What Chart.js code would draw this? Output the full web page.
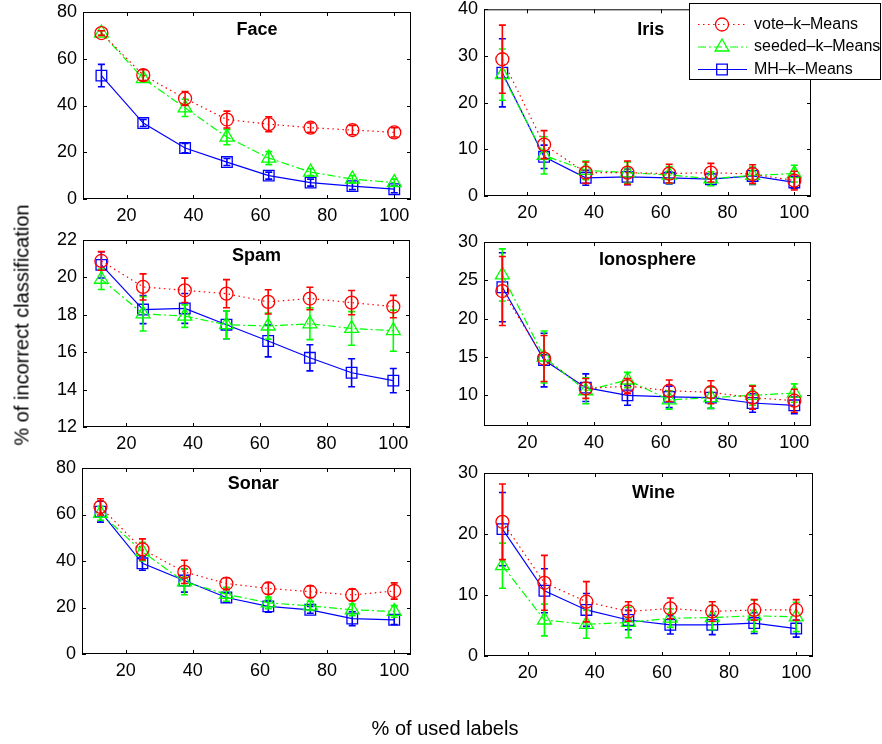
<!DOCTYPE html>
<html>
<head>
<meta charset="utf-8">
<script src="https://cdn.jsdelivr.net/npm/chart.js@4.4.0/dist/chart.umd.min.js"></script>
<style>
  body { margin: 0; background: #fff; }
  #wrap { position: relative; width: 882px; height: 744px; overflow: hidden; font-family: "Liberation Sans", Arial, sans-serif; }
  #wrap canvas { position: absolute; left: 0; top: 0; }
  .lab { position: absolute; font-size: 20px; color: #000; white-space: nowrap; transform: translate(-50%, -50%); }
  #ylab { left: 22px; top: 325px; transform: translate(-50%, -50%) rotate(-90deg); }
  #xlab { left: 445px; top: 728px; }
</style>
</head>
<body>
<div id="wrap">
  <div class="lab" id="ylab">% of incorrect classification</div>
  <div class="lab" id="xlab">% of used labels</div>
</div>
<script>
// x positions (% of used labels) and tick labels
const usedLabels = [12.5, 25, 37.5, 50, 62.5, 75, 87.5, 100];
const xTicks = [20, 40, 60, 80, 100];
const seriesNames = ['vote–k–Means', 'seeded–k–Means', 'MH–k–Means'];

// Face
const faceVote = [71, 53, 43, 34, 32, 30.5, 29.5, 28.5];
const faceVoteErr = [1, 2.3, 3, 3.6, 3.2, 2, 2, 2];
const faceSeeded = [71, 51.5, 39, 26.5, 17.5, 11.5, 8.5, 7];
const faceSeededErr = [1, 1.5, 3.7, 3.3, 2.8, 1.5, 1.5, 1.5];
const faceMH = [52.8, 32.5, 21.8, 15.8, 10, 7, 5.5, 4.2];
const faceMHErr = [4.8, 1.5, 2, 1.5, 1.5, 1.5, 1.5, 1.5];
const faceTicks = [0, 20, 40, 60, 80];

// Iris
const irisVote = [29.3, 11, 5, 5, 4.8, 5, 4.7, 3.3];
const irisVoteErr = [7.3, 3, 2.3, 2.5, 2, 2, 2, 2];
const irisSeeded = [26, 8.7, 5.5, 5, 4.5, 3.7, 4.4, 4.8];
const irisSeededErr = [5.5, 4, 2, 2.3, 1.8, 1.5, 1.8, 1.8];
const irisMH = [26.4, 8.4, 3.9, 4.1, 3.9, 3.6, 4.3, 2.9];
const irisMHErr = [7.3, 2.5, 1.6, 1.7, 1.3, 1.2, 1.8, 1.3];
const irisTicks = [0, 10, 20, 30, 40];

// Spam
const spamVote = [20.88, 19.49, 19.31, 19.13, 18.69, 18.87, 18.65, 18.44];
const spamVoteErr = [0.5, 0.7, 0.65, 0.75, 0.65, 0.6, 0.65, 0.6];
const spamSeeded = [19.9, 18.05, 17.93, 17.47, 17.4, 17.52, 17.27, 17.15];
const spamSeededErr = [0.55, 0.92, 0.6, 0.75, 0.7, 0.85, 0.9, 1.1];
const spamMH = [20.67, 18.28, 18.34, 17.47, 16.6, 15.7, 14.9, 14.48];
const spamMHErr = [0.7, 0.75, 0.8, 0.75, 0.85, 0.7, 0.75, 0.65];
const spamTicks = [12, 14, 16, 18, 20, 22];

// Ionosphere
const ionoVote = [23.6, 14.8, 10.9, 11.2, 10.6, 10.4, 9.7, 9.3];
const ionoVoteErr = [4.5, 3, 1.3, 1, 1.4, 1.5, 1.5, 1.5];
const ionoSeeded = [25.7, 15, 10.6, 12, 9.4, 9.7, 10, 10.3];
const ionoSeededErr = [3.4, 3.4, 1.7, 1, 1.2, 1.4, 1.3, 1.2];
const ionoMH = [24.1, 14.6, 11, 10, 9.8, 9.7, 9, 8.7];
const ionoMHErr = [4.5, 3.5, 1.8, 1.3, 1.4, 1.4, 1.2, 1.1];
const ionoTicks = [10, 15, 20, 25, 30];

// Sonar
const sonarVote = [63.3, 45, 35.3, 30.3, 28.2, 26.8, 25.4, 27.1];
const sonarVoteErr = [3.5, 4.5, 5, 2.5, 2.5, 2.5, 2.5, 3.5];
const sonarSeeded = [60.5, 44, 31, 25.7, 22, 20.7, 19, 18.3];
const sonarSeededErr = [3, 4, 5.5, 3, 2.5, 2, 2.5, 2.5];
const sonarMH = [61.2, 39, 31.6, 24.3, 20.5, 19, 15.2, 14.7];
const sonarMHErr = [4.5, 3, 5, 2, 2.5, 1.5, 3, 2];
const sonarTicks = [0, 20, 40, 60, 80];

// Wine
const wineVote = [22, 12, 8.9, 7.3, 7.8, 7.3, 7.55, 7.55];
const wineVoteErr = [6.2, 4.5, 3.3, 1.6, 1.7, 1.6, 1.7, 1.7];
const wineSeeded = [14.8, 5.9, 5.2, 5.5, 6.2, 6.3, 6.6, 6.4];
const wineSeededErr = [3.7, 2.6, 2.3, 2.5, 1.5, 2, 2.6, 2.4];
const wineMH = [20.8, 10.7, 7.55, 5.9, 5.1, 5.1, 5.4, 4.5];
const wineMHErr = [6, 3.6, 2.7, 1.6, 1.5, 1.6, 1.7, 1.4];
const wineTicks = [0, 10, 20, 30];

const seriesStyles = [
  { color: '#ff0000', dash: [1.5, 3.5], point: 'circle', radius: 6.5 },
  { color: '#00ff00', dash: [8, 3, 2, 3], point: 'triangle', radius: 8 },
  { color: '#0000ff', dash: [], point: 'rect', radius: 7.5 }
];

const W = 882, H = 744;
const FONT = '"Liberation Sans", Arial, sans-serif';
Chart.defaults.color = '#000';
Chart.defaults.font.family = FONT;

function makeDataset(i, values, errs) {
  const st = seriesStyles[i];
  return {
    label: seriesNames[i],
    data: usedLabels.map((x, k) => ({ x: x, y: values[k] })),
    errors: errs,
    borderColor: st.color,
    backgroundColor: 'rgba(0,0,0,0)',
    borderWidth: 1.2,
    borderDash: st.dash,
    pointStyle: st.point,
    pointRadius: st.radius,
    pointBorderWidth: 1.3,
    pointBorderColor: st.color,
    pointBackgroundColor: 'rgba(0,0,0,0)',
    tension: 0,
    fill: false
  };
}

// error bars, drawn through each marker
const errorBars = {
  id: 'errorBars',
  afterDatasetDraw(chart, args) {
    const ds = chart.data.datasets[args.index];
    const ys = chart.scales.y;
    const ctx = chart.ctx;
    ctx.save();
    ctx.strokeStyle = ds.borderColor;
    ctx.lineWidth = 1.6;
    ctx.setLineDash([]);
    args.meta.data.forEach((pt, i) => {
      const v = ds.data[i].y, e = ds.errors[i];
      const top = ys.getPixelForValue(v + e), bot = ys.getPixelForValue(v - e);
      ctx.beginPath();
      ctx.moveTo(pt.x, top); ctx.lineTo(pt.x, bot);
      ctx.moveTo(pt.x - 3.5, top); ctx.lineTo(pt.x + 3.5, top);
      ctx.moveTo(pt.x - 3.5, bot); ctx.lineTo(pt.x + 3.5, bot);
      ctx.stroke();
    });
    ctx.restore();
  }
};

// matlab-like box with inward ticks on all sides + title inside
const boxAndTitle = {
  id: 'boxAndTitle',
  beforeDatasetsDraw(chart) {
    const a = chart.chartArea, ctx = chart.ctx;
    const xs = chart.scales.x, ys = chart.scales.y;
    ctx.save();
    ctx.strokeStyle = '#000';
    ctx.lineWidth = 1;
    ctx.strokeRect(a.left + 0.5, a.top + 0.5, a.right - a.left - 1, a.bottom - a.top - 1);
    ctx.beginPath();
    xs.ticks.forEach(t => {
      const px = Math.round(xs.getPixelForValue(t.value)) + 0.5;
      ctx.moveTo(px, a.bottom); ctx.lineTo(px, a.bottom - 4);
      ctx.moveTo(px, a.top); ctx.lineTo(px, a.top + 4);
    });
    ys.ticks.forEach(t => {
      const py = Math.round(ys.getPixelForValue(t.value)) + 0.5;
      ctx.moveTo(a.left, py); ctx.lineTo(a.left + 4, py);
      ctx.moveTo(a.right, py); ctx.lineTo(a.right - 4, py);
    });
    ctx.stroke();
    ctx.restore();
  },
  afterDraw(chart) {
    const opts = chart.options.plugins.boxAndTitle;
    if (!opts || !opts.text) return;
    const ctx = chart.ctx, a = chart.chartArea;
    ctx.save();
    ctx.fillStyle = '#000';
    ctx.font = 'bold 18px ' + FONT;
    ctx.textAlign = 'center';
    ctx.textBaseline = 'middle';
    ctx.fillText(opts.text, chart.scales.x.getPixelForValue(opts.tx), a.top + opts.dy);
    ctx.restore();
  }
};

// legend box, drawn in the Iris panel
const boxLegend = {
  id: 'boxLegend',
  afterDraw(chart) {
    const ctx = chart.ctx;
    const x0 = 689, y0 = 3, w = 192, h = 77;
    ctx.save();
    ctx.fillStyle = '#fff';
    ctx.fillRect(x0, y0, w, h);
    ctx.strokeStyle = '#000';
    ctx.lineWidth = 1;
    ctx.strokeRect(x0 + 0.5, y0 + 0.5, w - 1, h - 1);
    chart.data.datasets.forEach((ds, i) => {
      const yy = y0 + 21.5 + i * 22.5;
      ctx.strokeStyle = ds.borderColor;
      ctx.lineWidth = 1.2;
      ctx.setLineDash(ds.borderDash);
      ctx.beginPath();
      ctx.moveTo(698, yy); ctx.lineTo(747, yy);
      ctx.stroke();
      ctx.setLineDash([]);
      ctx.lineWidth = 1.3;
      ctx.fillStyle = 'rgba(0,0,0,0)';
      Chart.helpers.drawPoint(ctx, { pointStyle: ds.pointStyle, radius: ds.pointRadius, borderWidth: 1.3, rotation: 0 }, 722, yy);
      ctx.fillStyle = '#000';
      ctx.font = '16px ' + FONT;
      ctx.textAlign = 'left';
      ctx.textBaseline = 'middle';
      ctx.fillText(ds.label, 754, yy);
    });
    ctx.restore();
  }
};

const panels = [
  { title: 'Face', tx: 59, dy: 18, L: 83, T: 12, R: 411, B: 199, min: 0, max: 80, ticks: faceTicks,
    s: [[faceVote, faceVoteErr], [faceSeeded, faceSeededErr], [faceMH, faceMHErr]] },
  { title: 'Iris', tx: 57, dy: 21, L: 484, T: 8, R: 811, B: 196, min: 0, max: 40, ticks: irisTicks, legend: true,
    s: [[irisVote, irisVoteErr], [irisSeeded, irisSeededErr], [irisMH, irisMHErr]] },
  { title: 'Spam', tx: 59, dy: 16, L: 83, T: 240, R: 410, B: 427, min: 12, max: 22, ticks: spamTicks,
    s: [[spamVote, spamVoteErr], [spamSeeded, spamSeededErr], [spamMH, spamMHErr]] },
  { title: 'Ionosphere', tx: 56, dy: 18, L: 484, T: 242, R: 811, B: 426, min: 6, max: 30, ticks: ionoTicks,
    s: [[ionoVote, ionoVoteErr], [ionoSeeded, ionoSeededErr], [ionoMH, ionoMHErr]] },
  { title: 'Sonar', tx: 58, dy: 16, L: 82, T: 468, R: 411, B: 654, min: 0, max: 80, ticks: sonarTicks,
    s: [[sonarVote, sonarVoteErr], [sonarSeeded, sonarSeededErr], [sonarMH, sonarMHErr]] },
  { title: 'Wine', tx: 57.5, dy: 20, L: 484, T: 473, R: 813, B: 656, min: 0, max: 30, ticks: wineTicks,
    s: [[wineVote, wineVoteErr], [wineSeeded, wineSeededErr], [wineMH, wineMHErr]] }
];

const wrap = document.getElementById('wrap');

panels.forEach((p) => {
  const canvas = document.createElement('canvas');
  canvas.width = W;
  canvas.height = H;
  wrap.insertBefore(canvas, wrap.firstChild);

  const plugins = [errorBars, boxAndTitle];
  if (p.legend) plugins.push(boxLegend);

  new Chart(canvas.getContext('2d'), {
    type: 'line',
    data: { datasets: p.s.map((d, i) => makeDataset(i, d[0], d[1])) },
    options: {
      responsive: false,
      animation: false,
      events: [],
      devicePixelRatio: 1,
      layout: { padding: { left: p.L - 50, top: p.T, right: W - p.R, bottom: H - p.B - 30 } },
      plugins: {
        legend: { display: false },
        tooltip: { enabled: false },
        boxAndTitle: { text: p.title, tx: p.tx, dy: p.dy }
      },
      scales: {
        x: {
          type: 'linear', min: 7, max: 105,
          grid: { display: false, drawTicks: false },
          border: { display: false },
          afterBuildTicks: s => { s.ticks = xTicks.map(v => ({ value: v })); },
          afterFit: s => { s.height = 30; s.paddingLeft = 0; s.paddingRight = 0; },
          ticks: { font: { size: 18 }, padding: 6, maxRotation: 0, autoSkip: false }
        },
        y: {
          type: 'linear', min: p.min, max: p.max,
          grid: { display: false, drawTicks: false },
          border: { display: false },
          afterBuildTicks: s => { s.ticks = p.ticks.map(v => ({ value: v })); },
          afterFit: s => { s.width = 50; s.paddingTop = 0; s.paddingBottom = 0; },
          ticks: { font: { size: 18 }, padding: 6, autoSkip: false }
        }
      }
    },
    plugins: plugins
  });
});
</script>
</body>
</html>
